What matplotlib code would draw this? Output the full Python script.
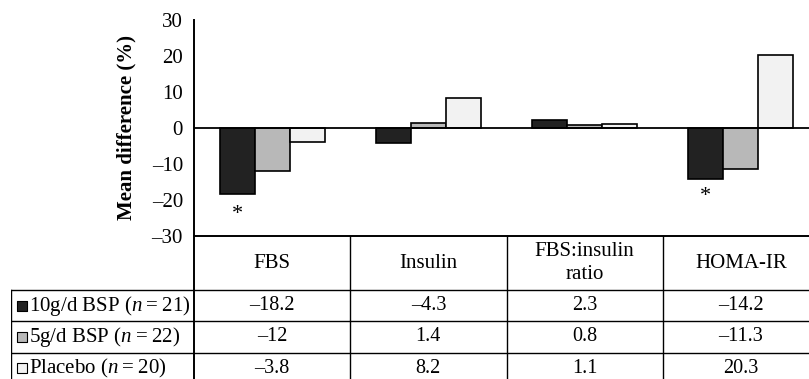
import matplotlib
matplotlib.use("Agg")
import matplotlib.pyplot as plt
import numpy as np


CATEGORIES = ["FBS", "Insulin", "FBS:insulin\nratio", "HOMA-IR"]
GROUPS = ["10g/d BSP", "5g/d BSP", "Placebo"]
GROUP_N = [21, 22, 20]
BSP_10G = [-18.2, -4.3, 2.3, -14.2]
BSP_5G = [-12, 1.4, 0.8, -11.3]
PLACEBO = [-3.8, 8.2, 1.1, 20.3]
COLORS = ["#222222", "#b8b8b8", "#f2f2f2"]
Y_TICKS = [-30, -20, -10, 0, 10, 20, 30]
STAR_CATEGORY = [0, 3]
STAR_Y = [-24, -19]

W, H = 809, 379
BAR_W = 0.224
HEADER_H = 54
ROW_H = 31.3
LABEL_W = 183 / 156.25


def dash(value):
    return f"{value:g}".replace("-", "\u2013")


def main():
    plt.rcParams["font.family"] = ["Liberation Serif", "DejaVu Serif"]
    plt.rcParams["mathtext.fontset"] = "custom"
    plt.rcParams["mathtext.rm"] = "Liberation Serif"
    plt.rcParams["mathtext.it"] = "Liberation Serif:italic"

    series = [BSP_10G, BSP_5G, PLACEBO]
    x = np.arange(len(CATEGORIES))

    fig = plt.figure(figsize=(W / 100, H / 100), dpi=100)
    ax = fig.add_axes([194 / W, (H - 236) / H, 625 / W, 216 / H])

    for i, values in enumerate(series):
        ax.bar(x + (i - 1) * BAR_W, values, BAR_W, color=COLORS[i],
               edgecolor="black", linewidth=1.2, zorder=2)
    ax.axhline(0, color="black", linewidth=1.3, zorder=3)

    for cat, y in zip(STAR_CATEGORY, STAR_Y):
        ax.text(x[cat] - BAR_W, y, "*", ha="center", va="center", fontsize=16)

    ax.set_xlim(-0.5, len(CATEGORIES) - 0.5)
    ax.set_ylim(-30, 30)
    ax.set_yticks(Y_TICKS)
    ax.set_yticklabels([dash(t) for t in Y_TICKS], fontsize=15)
    ax.tick_params(axis="y", length=0, pad=8)
    ax.set_xticks([])
    ax.set_ylabel("Mean difference (%)", fontsize=15, fontweight="bold", labelpad=11)
    for side in ["top", "right"]:
        ax.spines[side].set_visible(False)
    for side in ["left", "bottom"]:
        ax.spines[side].set_linewidth(1.4)

    # table under the bars
    table_h = HEADER_H + 3 * ROW_H
    tab = fig.add_axes([11 / W, (H - 236 - table_h) / H, (625 + 183) / W, table_h / H])
    left = -0.5 - LABEL_W
    right = len(CATEGORIES) - 0.5
    tab.set_xlim(left, right)
    tab.set_ylim(table_h, 0)
    tab.axis("off")

    row_edges = [HEADER_H + ROW_H * r for r in range(4)]
    for y in row_edges:
        tab.plot([left, right], [y, y], color="black", linewidth=1.0)
    tab.plot([-0.5, -0.5], [0, table_h], color="black", linewidth=1.4)
    for c in range(1, len(CATEGORIES) + 1):
        tab.plot([c - 0.5, c - 0.5], [0, table_h], color="black", linewidth=1.0)
    tab.plot([left, left], [HEADER_H, table_h], color="black", linewidth=1.0)

    for c, name in enumerate(CATEGORIES):
        tab.text(c, HEADER_H / 2, name, ha="center", va="center", fontsize=15,
                 linespacing=1.25)

    for r, values in enumerate(series):
        yc = HEADER_H + ROW_H * (r + 0.5)
        tab.scatter([left + 11 / 156.25], [yc], marker="s", s=60, color=COLORS[r],
                    edgecolor="black", linewidth=0.8, zorder=3)
        tab.text(left + 18 / 156.25, yc,
                 f"{GROUPS[r]} ($\\mathit{{n}}$\u2009=\u2009{GROUP_N[r]})",
                 ha="left", va="center", fontsize=15)
        for c, value in enumerate(values):
            tab.text(c, yc, dash(value), ha="center", va="center", fontsize=14.5)

    fig.savefig("out.png", dpi=100)


if __name__ == "__main__":
    main()
